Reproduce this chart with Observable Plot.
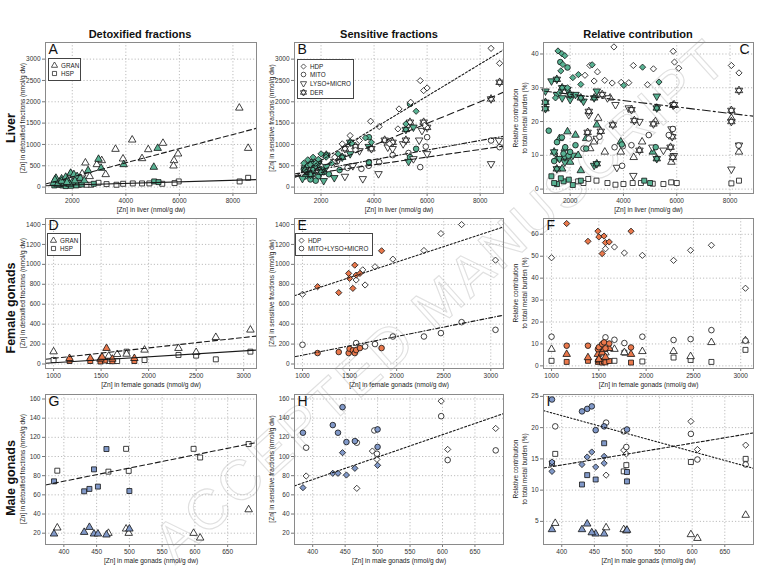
<!DOCTYPE html>
<html><head><meta charset="utf-8">
<script src="https://cdn.jsdelivr.net/npm/d3@7"></script>
<script src="https://cdn.jsdelivr.net/npm/@observablehq/plot@0.6"></script>
<style>
body{margin:0;background:#fff;}
#root{position:relative;width:759px;height:579px;overflow:hidden;font-family:"Liberation Sans",Arial,sans-serif;color:#111;}
.abs{position:absolute;}
.coltitle{font-weight:bold;font-size:11px;transform:translateX(-50%);white-space:nowrap;}
.rowtitle{font-weight:bold;font-size:12.5px;transform:translate(-50%,-50%) rotate(-90deg);white-space:nowrap;}
.ytitle{font-size:6.5px;color:#222;transform:translate(-50%,-50%) rotate(-90deg);white-space:pre;text-align:center;line-height:9px;}
.legend{border:1px solid #444;background:#fff;font-size:6.3px;padding:2px 2px;color:#222;box-sizing:border-box;}
.legend .row{display:flex;align-items:center;height:8.6px;white-space:nowrap;}
.legend svg{margin-right:3px;flex:none;}
.wm{position:absolute;left:440px;top:300px;transform:translate(-50%,-50%) rotate(-42deg);font-size:56px;font-family:"Liberation Sans",Arial,sans-serif;color:transparent;-webkit-text-stroke:1.1px #e0e0e0;white-space:nowrap;letter-spacing:3px;}
</style></head><body><div id="root"><div class="wm">ACCEPTED MANUSCRIPT</div></div>
<script>
// ---------- tick labels / domains ----------
const liverTicksX = [2000, 4000, 6000, 8000];
const detoxLiverTicksY = [0, 500, 1000, 1500, 2000, 2500, 3000];
const relLiverTicksY = [0, 10, 20, 30, 40];
const femTicksX = [1000, 1500, 2000, 2500, 3000];
const femTicksY = [0, 200, 400, 600, 800, 1000, 1200, 1400];
const relFemTicksY = [0, 10, 20, 30, 40, 50, 60];
const maleTicksX = [400, 450, 500, 550, 600, 650];
const maleTicksY = [20, 40, 60, 80, 100, 120, 140, 160];
const relMaleTicksY = [5, 10, 15, 20, 25];

// ---------- Liver (A, B, C) : [x, y] ; "_c" = coloured group ----------
const A_GRAN_o = [[8238,1856],[8568,912],[4238,1107],[3614,889],[3895,663],[4837,881],[5387,1030],[4605,671],[5950,780],[5800,624],[5780,499],[2490,569],[2918,530],[3248,296],[3100,624],[2370,312],[1940,312],[2650,250],[2200,200]];
const A_GRAN_c = [[2980,655],[2590,390],[3077,445],[3920,530],[5045,468],[5190,912],[1390,210],[1600,195],[1755,234],[1940,328],[2060,296],[2180,250],[1510,117],[1817,156],[2000,117],[1300,94],[1450,60],[1700,80],[1900,70],[2100,150],[2300,210],[1600,140],[2450,150],[1350,170],[1800,110]];
const A_HSP_o = [[8568,218],[8250,133],[5975,133],[5820,94],[5360,78],[4880,86],[4605,86],[4260,86],[3900,78],[3650,55],[3280,70],[2980,101],[2700,55],[2530,55],[2245,55]];
const A_HSP_c = [[1450,55],[1630,39],[1880,55],[2060,62],[5060,133],[5220,117],[2800,78],[1330,39],[1755,23],[1550,70],[2150,40],[1950,30],[2350,60]];
const A_fits = [{a:-95, b:0.166, dash:"5,3"}, {a:11.6, b:0.01835, dash:null}];

const B_HDP_o = [[8411,3253],[8734,2902],[5741,2496],[5870,2262],[6000,2324],[5380,1989],[4941,1833],[3870,1544],[4193,1420],[3097,1209],[3445,1092],[4900,1365],[4580,1014],[2800,1014],[2516,702],[3300,870],[5900,1450]];
const B_HDP_c = [[5586,1778],[3677,1154],[3161,1030],[2645,780],[2194,702],[1500,640],[1700,700],[1900,650],[1350,560],[2000,780],[1600,520],[2400,560],[1800,560],[5200,1480],[3900,1050]];
const B_MITO_o = [[8411,1092],[8734,936],[6000,1170],[5741,468],[4193,585],[3522,429],[3000,450],[2600,600],[5300,800],[5950,950],[3800,500],[4700,750]];
const B_MITO_c = [[5354,1950],[3806,1170],[3806,585],[5586,897],[5354,702],[1500,300],[1700,400],[1900,250],[2100,350],[1350,420],[1800,150],[2300,300],[1600,180],[2700,400],[1400,250]];
const B_LYSO_o = [[8411,546],[8708,1092],[5806,1326],[5700,1100],[5483,663],[5096,1014],[4516,936],[4167,312],[3574,195],[3200,500],[2900,250],[4700,900],[6000,780],[3450,850],[2700,700]];
const B_LYSO_c = [[5483,1404],[5300,600],[1400,450],[1600,600],[1800,500],[2000,420],[1500,350],[1700,300],[1900,550],[2200,480],[2500,220],[3100,780],[1300,200],[2100,150],[3800,950]];
const B_DER_o = [[8411,2067],[8734,2457],[5870,1521],[5354,1521],[6000,1400],[5200,1100],[4700,1050],[3900,900],[3300,950],[2900,900],[2500,600],[4400,1100]];
const B_DER_c = [[1500,500],[1700,550],[1900,600],[1400,400],[2200,750],[2800,700],[3100,1050],[5200,1350],[1600,300],[2000,350]];
const B_fits = [{a:-130, b:0.377, dash:"2,2"}, {a:-31, b:0.254, dash:"7,4"}, {a:194, b:0.1124, dash:"5,2,1,2"}, {a:165.6, b:0.0896, dash:"6,3"}];

const C_HDP_o = [[8050,36.6],[8335,34.4],[3643,42.1],[5866,40.8],[5915,37.6],[6075,35.8],[4371,36.6],[5125,35.6],[2741,36.6],[2556,33.7],[3025,34.7],[3297,32.2],[3915,31.6],[3578,31.4],[4902,30.9],[4200,31.5],[2900,32]];
const C_HDP_c = [[1543,40.9],[1691,40.1],[1728,36.9],[2309,33.9],[2827,36.8],[4013,30.7],[4717,36.1],[5334,31.7],[1800,39.5],[2100,33],[1650,35],[1900,30],[2400,31],[1450,27],[1600,28.5]];
const C_MITO_o = [[8323,12.9],[5853,17.8],[3976,12.7],[3667,12.4],[3951,6.9],[4300,13],[2700,15],[3100,15.5],[5700,16],[4950,16],[2500,12]];
const C_MITO_c = [[1197,17.3],[1691,15.3],[1506,13.9],[1815,12.4],[1938,9.9],[5211,12.4],[3939,13.2],[1630,37.6],[2000,11],[1400,8.3],[2200,13],[2600,12],[1750,10.5],[1900,36]];
const C_LYSO_o = [[8050,5.9],[4371,4.0],[3754,6.4],[5087,12.4],[5804,17.8],[5890,9.9],[3000,15],[3400,27],[4200,24],[4600,20],[2700,22],[3700,25],[5500,11.5],[8335,13]];
const C_LYSO_c = [[1074,29],[1300,32],[1500,28],[1700,27],[2000,26.5],[2200,28],[1400,11],[1600,9],[1800,8],[2100,10],[2900,7],[3000,29],[5250,27.5],[1900,29.5],[2500,26]];
const C_GRAN_o = [[4384,9.4],[3900,11],[2900,14],[3300,11],[4700,14],[5800,8],[5200,20],[3050,21],[8050,21],[8335,11],[3500,27],[2750,12]];
const C_GRAN_c = [[1400,11],[1600,15],[1900,17],[2200,16],[1700,6],[2000,8],[2400,5.5],[1500,9],[2600,15],[3900,14],[5100,11],[3000,19],[1800,12],[2300,10]];
const C_HSP_o = [[8050,1.7],[8335,2.5],[5792,2.0],[5500,1.5],[5100,1.6],[4655,1.8],[4346,1.8],[4000,1.5],[3700,1.3],[3400,1.8],[2988,2.5],[2679,3.0],[2500,1.8],[2300,2.3],[6000,1.8]];
const C_HSP_c = [[1296,3.8],[1506,1.5],[1753,2.3],[1950,2.8],[1400,1.8],[4779,2.5],[5000,1.8],[2100,1.2],[1650,3.2],[2400,2.5]];
const C_DER_o = [[8335,29.2],[8050,23.3],[8050,20],[5866,24.8],[5829,15.5],[5767,12.4],[5853,9.4],[4408,20.3],[5125,19.3],[3149,17.1],[2655,16.8],[4600,11.5],[2700,23],[3200,28],[4300,23.5],[5900,25],[3600,19]];
const C_DER_c = [[1074,25.7],[1074,23.8],[1500,32.5],[1700,30],[2000,28],[2400,27],[2900,27],[5250,24],[5250,9],[1800,9.5],[3000,7.5],[1500,6]];
const C_fits = [{a:30.0, b:-0.000948, dash:"8,3,2,3"}];

// ---------- Female gonads (D, E, F) ----------
const D_GRAN_o = [[1000,124],[1957,141],[2314,158],[2500,117],[2707,268],[3071,342],[1669,97],[1768,100],[1580,80]];
const D_GRAN_c = [[1168,57],[1386,57],[1493,50],[1557,158],[1618,50],[1850,57],[1510,70]];
const D_HSP_o = [[1000,40],[1957,40],[2314,91],[2500,84],[2707,47],[3071,124],[1669,30],[1768,124],[1582,30]];
const D_HSP_c = [[1168,30],[1386,30],[1493,25],[1618,28],[1850,30],[1540,35]];
const D_fits = [{a:-47.5, b:0.1045, dash:"5,3"}, {a:-46.5, b:0.0594, dash:null}];

const E_HDP_o = [[1000,700],[1570,843],[1665,793],[1770,976],[1960,1052],[2290,1139],[2470,1309],[2690,1399],[3050,1042],[1640,945]];
const E_HDP_c = [[1160,776],[1385,716],[1490,909],[1500,859],[1535,759],[1555,992],[1570,892],[1610,909],[1840,1136]];
const E_MLM_o = [[1000,193],[1570,210],[1665,176],[1770,200],[1960,276],[2290,276],[2470,310],[2690,420],[3050,343]];
const E_MLM_c = [[1160,110],[1385,120],[1490,110],[1500,153],[1535,137],[1555,110],[1570,140],[1610,160],[1840,160]];
const E_fits = [{a:401, b:0.3107, dash:"2,2"}, {a:-100, b:0.1882, dash:"4,2,1,2"}];

const F_HDP_o = [[1000,49.3],[1570,53.4],[1665,54.2],[1770,51.5],[1960,50.4],[2290,48.1],[2470,52.7],[2690,55.0],[3050,35.4]];
const F_HDP_c = [[1160,64.9],[1385,56.8],[1490,61.4],[1500,58.8],[1535,51.2],[1555,59.2],[1570,56.2],[1610,56.5],[1840,61.4]];
const F_MLM_o = [[1000,13.3],[1570,13],[1665,11.9],[1770,10.4],[1960,13.3],[2290,11.8],[2470,12.2],[2690,16.3],[3050,11.5]];
const F_MLM_c = [[1160,9.2],[1385,9.2],[1490,7.6],[1500,8.5],[1535,9.9],[1555,10.7],[1570,8],[1610,10.2],[1840,8.4]];
const F_GRAN_o = [[1000,7.6],[1570,6],[1665,7.6],[1770,6.1],[1960,6.6],[2290,6.6],[2470,4.3],[2690,10.7],[3050,11.5]];
const F_GRAN_c = [[1160,5.3],[1385,3.8],[1490,5.3],[1500,3],[1535,6],[1555,7.6],[1570,4],[1610,8],[1840,5.3]];
const F_HSP_o = [[1000,2.3],[1570,2.3],[1665,2.3],[1770,6],[1960,2.0],[2290,3.8],[2470,2.7],[2690,1.8],[3050,7.3]];
const F_HSP_c = [[1160,1.8],[1385,2.3],[1490,1.8],[1500,2.5],[1535,1.5],[1555,2],[1570,1.6],[1610,2.2],[1840,1.5]];

// ---------- Male gonads (G, H, I) ----------
const G_HSP_o = [[390,85.2],[468,84.2],[495,108],[499,85],[598,108],[608,99],[682,113]];
const G_HSP_c = [[385,74.1],[431,63.7],[439,66.2],[446,86.6],[452,68.6],[465,107.8],[500,64]];
const G_GRAN_o = [[390,25.6],[468,20],[495,24.5],[499,20],[598,20],[608,15.1],[682,44.6]];
const G_GRAN_c = [[385,19.3],[431,21],[439,26.2],[446,19.3],[452,19.3],[465,18.3],[500,24.5]];
const G_fits = [{a:19.2, b:0.1375, dash:"5,3"}];

const H_MLM_c = [[385,124.8],[431,132.8],[439,124.8],[446,151.5],[452,115.1],[465,116.1],[500,110],[500,128.3]];
const H_HDP_c = [[385,67.5],[431,82.5],[439,82.5],[446,104],[452,80.7],[465,87.7],[500,90.8]];
const H_MLM_o = [[390,109.2],[495,127.2],[468,114.4],[499,102.9],[598,142.1],[608,96.3],[682,106.4]];
const H_HDP_o = [[390,79.7],[468,66.8],[492,105.7],[499,97],[598,157.8],[608,107.4],[682,129.3]];
const H_fits = [{a:-17.7, b:0.2341, dash:"2,2"}];

const I_MLM_c = [[385,24.5],[431,22.6],[439,23],[446,23.4],[452,19.6],[465,20.2],[500,19.7]];
const I_MLM_o = [[390,20.2],[468,20.8],[495,19.4],[499,16.9],[598,19],[608,14.9],[682,14.1]];
const I_HDP_c = [[385,13.0],[431,14.1],[439,15.3],[446,16.1],[452,13.7],[465,15.4],[465,14.3],[385,14.5]];
const I_HDP_o = [[468,12.4],[495,16.4],[499,15.8],[598,21.0],[608,16.5],[682,17.2]];
const I_HSP_c = [[431,10.9],[439,12.4],[452,11.7],[465,17.5],[500,12.9],[500,11.4],[385,14.3]];
const I_HSP_o = [[390,15.8],[499,14],[598,14.5],[682,15.0],[495,13]];
const I_GRAN_c = [[385,3.7],[431,3.7],[439,4.6],[452,3.0],[465,3.0],[500,3.6],[446,3.2]];
const I_GRAN_o = [[390,4.7],[468,4.0],[495,3.7],[598,2.9],[608,2.3],[682,6.0],[499,3.5]];
const I_fits = [{a:33.38, b:-0.02866, dash:"1.5,2"}, {a:7.04, b:0.01745, dash:"3,2"}];

// ---------- styling ----------
const GREEN = "#58b293", ORANGE = "#ea784b", BLUE = "#8199c9";
const S3 = Math.sqrt(3);
const downTri = {draw(ctx, size){ const y = Math.sqrt(size/(S3*3)); ctx.moveTo(0, 2*y); ctx.lineTo(-S3*y, -y); ctx.lineTo(S3*y, -y); ctx.closePath(); }};
const hexagram = {draw(ctx, size){ const y = Math.sqrt(size/(S3*3));
  ctx.moveTo(0,-2*y); ctx.lineTo(S3*y,y); ctx.lineTo(-S3*y,y); ctx.closePath();
  ctx.moveTo(0,2*y); ctx.lineTo(-S3*y,-y); ctx.lineTo(S3*y,-y); ctx.closePath(); }};
const SYM = {GRAN:"triangle", HSP:"square", HDP:"diamond2", MITO:"circle", LYSO:downTri, DER:hexagram, MLM:"circle"};

function pts(data, sym, fill){
  return Plot.dot(data, {x: d=>d[0], y: d=>d[1], symbol: sym, r: 2.8, fill, stroke:"#111", strokeWidth:0.8});
}
function S(o, c, sym, col){ return [pts(o, sym, "white"), pts(c, sym, col)]; }

const root = document.getElementById("root");
const YL_DETOX = "[Zn] in detoxified fractions (nmol/g dw)";
const YL_SENS = "[Zn] in sensitive fractions (nmol/g dw)";
const YL_REL = "Relative contribution\nto total metal burden (%)";

function panel(o){
  const mL=44, mR=4, mT=3, mB=26;
  const fitMarks = o.fits.map(f => Plot.line(o.xd.map(x=>[x, f.a + f.b*x]),
      {x:d=>d[0], y:d=>d[1], stroke:"#1a1a1a", strokeWidth:1.1, strokeDasharray:f.dash || undefined, clip:true}));
  const chart = Plot.plot({
    width: o.w + mL + mR, height: o.h + mT + mB,
    marginLeft: mL, marginRight: mR, marginTop: mT, marginBottom: mB,
    x: {domain: o.xd}, y: {domain: o.yd},
    style: {fontFamily:"'Liberation Sans', Arial, sans-serif", fontSize:"6.5px", color:"#333", background:"transparent", overflow:"visible"},
    marks: [
      Plot.gridX(o.xt, {stroke:"#bdbdbd", strokeOpacity:1, strokeDasharray:"1.2,2"}),
      Plot.gridY(o.yt, {stroke:"#bdbdbd", strokeOpacity:1, strokeDasharray:"1.2,2"}),
      Plot.axisX(o.xt, {tickSize:3, tickPadding:2, label:null, tickFormat:d=>String(d), stroke:"#777", fill:"#333"}),
      Plot.axisY(o.yt, {tickSize:3, tickPadding:2, label:null, tickFormat:d=>String(d), stroke:"#777", fill:"#333"}),
      ...o.marks,
      ...fitMarks,
      Plot.frame({stroke:"#8a8a8a"}),
      Plot.text([o.letter], {frameAnchor: o.right ? "top-right" : "top-left", dx: o.right ? -4 : 3, dy: 2,
        fontSize: 14, textAnchor: o.right ? "end" : "start", lineAnchor:"top", fill:"#111"}),
      Plot.text([o.xlabel], {frameAnchor:"bottom", dy:16, fontSize:6.6, lineAnchor:"middle", fill:"#222"})
    ]
  });
  const div = document.createElement("div");
  div.className = "abs";
  div.style.left = (o.left - mL) + "px";
  div.style.top = (o.top - mT) + "px";
  div.appendChild(chart);
  root.appendChild(div);
  const yl = document.createElement("div");
  yl.className = "abs ytitle";
  yl.style.left = (o.left - 23) + "px";
  yl.style.top = (o.top + o.h/2) + "px";
  yl.textContent = o.ylabel;
  root.appendChild(yl);
}

const LXD = [1000, 8880], FXD = [915, 3135], MXD = [372, 694];
const XL_L = "[Zn] in liver (nmol/g dw)", XL_F = "[Zn] in female gonads (nmol/g dw)", XL_M = "[Zn] in male gonads (nmol/g dw)";

panel({left:45, top:42, w:211, h:151, xd:LXD, yd:[-150,3390], xt:liverTicksX, yt:detoxLiverTicksY, letter:"A", xlabel:XL_L, ylabel:YL_DETOX, fits:A_fits,
  marks:[...S(A_HSP_o, A_HSP_c, SYM.HSP, GREEN), ...S(A_GRAN_o, A_GRAN_c, SYM.GRAN, GREEN)]});
panel({left:294, top:42, w:209, h:151, xd:LXD, yd:[-150,3390], xt:liverTicksX, yt:detoxLiverTicksY, letter:"B", xlabel:XL_L, ylabel:YL_SENS, fits:B_fits,
  marks:[...S(B_MITO_o, B_MITO_c, SYM.MITO, GREEN), ...S(B_LYSO_o, B_LYSO_c, SYM.LYSO, GREEN), ...S(B_DER_o, B_DER_c, SYM.DER, GREEN), ...S(B_HDP_o, B_HDP_c, SYM.HDP, GREEN)]});
panel({left:543, top:42, w:210, h:151, xd:LXD, yd:[-1.3,43.4], xt:liverTicksX, yt:relLiverTicksY, letter:"C", right:true, xlabel:XL_L, ylabel:YL_REL, fits:C_fits,
  marks:[...S(C_HSP_o, C_HSP_c, SYM.HSP, GREEN), ...S(C_GRAN_o, C_GRAN_c, SYM.GRAN, GREEN), ...S(C_LYSO_o, C_LYSO_c, SYM.LYSO, GREEN), ...S(C_DER_o, C_DER_c, SYM.DER, GREEN), ...S(C_MITO_o, C_MITO_c, SYM.MITO, GREEN), ...S(C_HDP_o, C_HDP_c, SYM.HDP, GREEN)]});

panel({left:45, top:218, w:211, h:150, xd:FXD, yd:[-45,1460], xt:femTicksX, yt:femTicksY, letter:"D", xlabel:XL_F, ylabel:YL_DETOX, fits:D_fits,
  marks:[...S(D_HSP_o, D_HSP_c, SYM.HSP, ORANGE), ...S(D_GRAN_o, D_GRAN_c, SYM.GRAN, ORANGE)]});
panel({left:294, top:218, w:209, h:150, xd:FXD, yd:[-45,1460], xt:femTicksX, yt:femTicksY, letter:"E", xlabel:XL_F, ylabel:YL_SENS, fits:E_fits,
  marks:[...S(E_MLM_o, E_MLM_c, SYM.MLM, ORANGE), ...S(E_HDP_o, E_HDP_c, SYM.HDP, ORANGE)]});
panel({left:543, top:218, w:210, h:150, xd:FXD, yd:[-1.2,67.2], xt:femTicksX, yt:relFemTicksY, letter:"F", xlabel:XL_F, ylabel:YL_REL, fits:[],
  marks:[...S(F_HSP_o, F_HSP_c, SYM.HSP, ORANGE), ...S(F_GRAN_o, F_GRAN_c, SYM.GRAN, ORANGE), ...S(F_MLM_o, F_MLM_c, SYM.MLM, ORANGE), ...S(F_HDP_o, F_HDP_c, SYM.HDP, ORANGE)]});

panel({left:45, top:394, w:211, h:150, xd:MXD, yd:[8.2,164.7], xt:maleTicksX, yt:maleTicksY, letter:"G", xlabel:XL_M, ylabel:YL_DETOX, fits:G_fits,
  marks:[...S(G_HSP_o, G_HSP_c, SYM.HSP, BLUE), ...S(G_GRAN_o, G_GRAN_c, SYM.GRAN, BLUE)]});
panel({left:294, top:394, w:209, h:150, xd:MXD, yd:[8.2,164.7], xt:maleTicksX, yt:maleTicksY, letter:"H", xlabel:XL_M, ylabel:YL_SENS, fits:H_fits,
  marks:[...S(H_MLM_o, H_MLM_c, SYM.MLM, BLUE), ...S(H_HDP_o, H_HDP_c, SYM.HDP, BLUE)]});
panel({left:543, top:394, w:210, h:150, xd:MXD, yd:[1.3,25.3], xt:maleTicksX, yt:relMaleTicksY, letter:"I", xlabel:XL_M, ylabel:YL_REL, fits:I_fits,
  marks:[...S(I_GRAN_o, I_GRAN_c, SYM.GRAN, BLUE), ...S(I_HSP_o, I_HSP_c, SYM.HSP, BLUE), ...S(I_HDP_o, I_HDP_c, SYM.HDP, BLUE), ...S(I_MLM_o, I_MLM_c, SYM.MLM, BLUE)]});

// ---------- titles ----------
const colTitles = [["Detoxified fractions",140],["Sensitive fractions",389],["Relative contribution",638]];
colTitles.forEach(([t,x])=>{ const d=document.createElement("div"); d.className="abs coltitle"; d.style.left=x+"px"; d.style.top="28px"; d.textContent=t; root.appendChild(d); });
const rowTitles = [["Liver",128],["Female gonads",308],["Male gonads",478]];
rowTitles.forEach(([t,y])=>{ const d=document.createElement("div"); d.className="abs rowtitle"; d.style.left="11px"; d.style.top=y+"px"; d.textContent=t; root.appendChild(d); });

// ---------- legends ----------
function legend(items, left, top, w){
  const d = document.createElement("div"); d.className="abs legend"; d.style.left=left+"px"; d.style.top=top+"px"; d.style.width=w+"px";
  items.forEach(([sym,label])=>{
    const row = document.createElement("div"); row.className = "row";
    const s = d3.create("svg").attr("width",7).attr("height",7).attr("viewBox","-4 -4 8 8");
    const symObj = typeof sym === "string" ? {triangle:d3.symbolTriangle, square:d3.symbolSquare, diamond2:d3.symbolDiamond2, circle:d3.symbolCircle}[sym] : sym;
    s.append("path").attr("d", d3.symbol(symObj, 22)()).attr("fill","white").attr("stroke","#111").attr("stroke-width",0.8);
    row.appendChild(s.node());
    row.appendChild(document.createTextNode(label));
    d.appendChild(row);
  });
  root.appendChild(d);
}
legend([[SYM.GRAN,"GRAN"],[SYM.HSP,"HSP"]], 48, 58, 33);
legend([[SYM.HDP,"HDP"],[SYM.MITO,"MITO"],[SYM.LYSO,"LYSO+MICRO"],[SYM.DER,"DER"]], 297, 59, 57);
legend([[SYM.GRAN,"GRAN"],[SYM.HSP,"HSP"]], 47, 233, 34);
legend([[SYM.HDP,"HDP"],[SYM.MLM,"MITO+LYSO+MICRO"]], 295, 233, 78);
</script></body></html>
